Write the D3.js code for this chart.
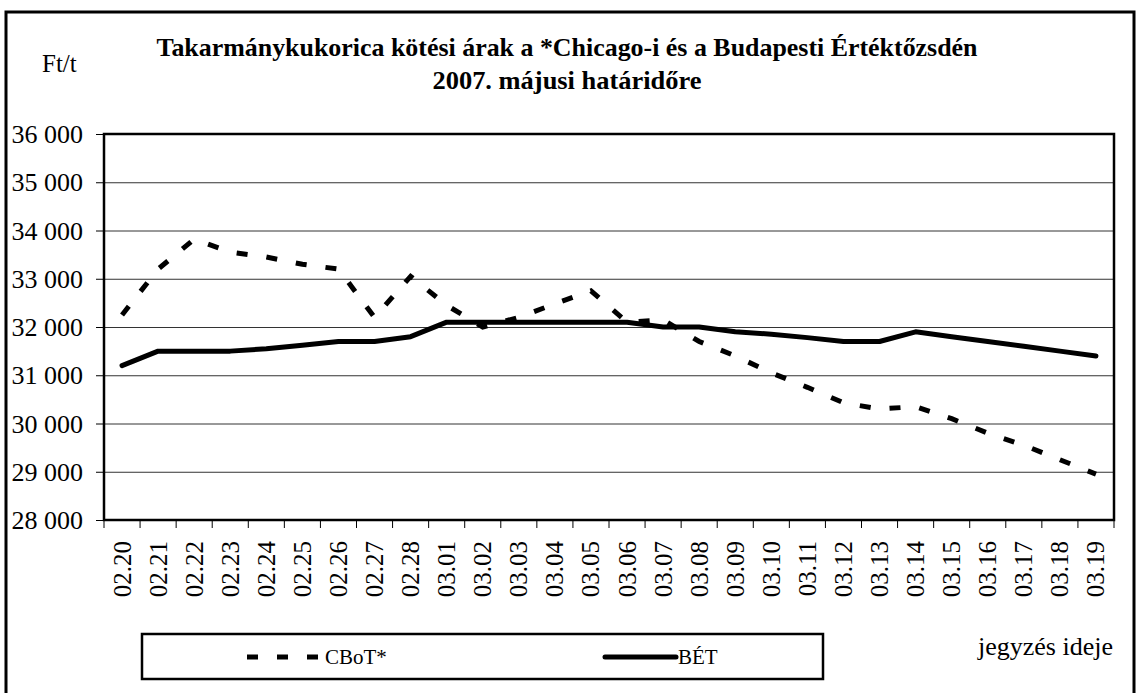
<html>
<head>
<meta charset="utf-8">
<script src="https://d3js.org/d3.v7.min.js"></script>
<style>
  body { margin: 0; background: #fff; }
  text { font-family: "Liberation Serif", "Times New Roman", serif; fill: #000; }
</style>
</head>
<body>
<script>
// categories (quote dates) and the two price series, Ft/t
var dates = ["02.20","02.21","02.22","02.23","02.24","02.25","02.26","02.27","02.28",
             "03.01","03.02","03.03","03.04","03.05","03.06","03.07","03.08","03.09",
             "03.10","03.11","03.12","03.13","03.14","03.15","03.16","03.17","03.18","03.19"];
var cbot = [32250,33200,33820,33550,33450,33300,33200,32200,33050,
            32450,32000,32200,32480,32750,32100,32150,31700,31400,
            31050,30750,30430,30300,30350,30100,29800,29550,29250,28950];
var bet  = [31200,31500,31500,31500,31550,31620,31700,31700,31800,
            32100,32100,32100,32100,32100,32100,32000,32000,31900,
            31850,31780,31700,31700,31900,31800,31700,31600,31500,31400];
var yTicks = [28000,29000,30000,31000,32000,33000,34000,35000,36000];
var titleLines = ["Takarmánykukorica kötési árak a *Chicago-i és a Budapesti Értéktőzsdén",
                  "2007. májusi határidőre"];
var seriesNames = ["CBoT*", "BÉT"];

var W = 1137, H = 693;
// plot area edges
var pLeft = 104, pRight = 1114, pTop = 134, pBottom = 520;

var svg = d3.select("body").append("svg")
  .attr("width", W).attr("height", H);

// outer frame
svg.append("rect")
  .attr("x", 6).attr("y", 12).attr("width", 1128).attr("height", 700)
  .attr("fill", "none").attr("stroke", "#000").attr("stroke-width", 3);

var x = d3.scaleBand().domain(dates).range([pLeft, pRight]);
var y = d3.scaleLinear().domain([28000, 36000]).range([pBottom, pTop]);

var loc = d3.formatLocale({decimal: ",", thousands: " ", grouping: [3], currency: ["", ""]});
var fmt = loc.format(",");

// gridlines
svg.append("g")
  .attr("transform", "translate(" + pLeft + ",0)")
  .call(d3.axisLeft(y).tickValues(yTicks).tickSize(-(pRight - pLeft)).tickFormat(""))
  .call(function(g) {
    g.select(".domain").remove();
    g.selectAll("line").attr("stroke", "#333").attr("stroke-width", 1);
  });

// y axis
svg.append("g")
  .attr("transform", "translate(" + pLeft + ",0)")
  .call(d3.axisLeft(y).tickValues(yTicks).tickSize(8).tickPadding(13).tickFormat(fmt))
  .call(function(g) {
    g.select(".domain").remove();
    g.selectAll("line").attr("stroke", "#000");
    g.selectAll("text")
      .style("font-size", "26px")
      .attr("dy", "0.33em");
  });

// plot border
svg.append("rect")
  .attr("x", pLeft).attr("y", pTop)
  .attr("width", pRight - pLeft).attr("height", pBottom - pTop)
  .attr("fill", "none").attr("stroke", "#000").attr("stroke-width", 2.5);

// x ticks at category boundaries
var bounds = d3.range(dates.length + 1).map(function(i) { return pLeft + i * x.step(); });
svg.append("g").selectAll("line").data(bounds).enter().append("line")
  .attr("x1", function(d) { return d; }).attr("x2", function(d) { return d; })
  .attr("y1", pBottom).attr("y2", pBottom + 8)
  .attr("stroke", "#000").attr("stroke-width", 1);

// x labels, rotated
svg.append("g").selectAll("text").data(dates).enter().append("text")
  .attr("transform", function(d) {
    return "translate(" + (x(d) + x.bandwidth() / 2 + 8.5) + "," + (pBottom + 21) + ") rotate(-90)";
  })
  .attr("text-anchor", "end")
  .style("font-size", "25px")
  .text(function(d) { return d; });

// lines
var line = function(vals) {
  return d3.line()
    .x(function(d, i) { return x(dates[i]) + x.bandwidth() / 2; })
    .y(function(d) { return y(d); })(vals);
};

svg.append("path")
  .attr("d", line(bet))
  .attr("fill", "none").attr("stroke", "#000").attr("stroke-width", 5)
  .attr("stroke-linejoin", "round").attr("stroke-linecap", "round");

svg.append("path")
  .attr("d", line(cbot))
  .attr("fill", "none").attr("stroke", "#000").attr("stroke-width", 5)
  .attr("stroke-dasharray", "11,19");

// title (widths matched to the original)
var titleW = [821, 269];
svg.append("g").selectAll("text").data(titleLines).enter().append("text")
  .attr("x", 567).attr("y", function(d, i) { return 56 + i * 33; })
  .attr("text-anchor", "middle")
  .attr("textLength", function(d, i) { return titleW[i]; })
  .attr("lengthAdjust", "spacingAndGlyphs")
  .style("font-size", "26px").style("font-weight", "bold")
  .text(function(d) { return d; });

svg.append("text").attr("x", 42).attr("y", 72)
  .style("font-size", "25px").text("Ft/t");

svg.append("text").attr("x", 978).attr("y", 655)
  .style("font-size", "26px").text("jegyzés ideje");

// legend
var lg = svg.append("g");
lg.append("rect")
  .attr("x", 142).attr("y", 634).attr("width", 681).attr("height", 45)
  .attr("fill", "#fff").attr("stroke", "#000").attr("stroke-width", 2.5);
lg.append("line")
  .attr("x1", 247).attr("x2", 320).attr("y1", 657).attr("y2", 657)
  .attr("stroke", "#000").attr("stroke-width", 5).attr("stroke-dasharray", "11,19");
lg.append("text").attr("x", 325).attr("y", 664)
  .style("font-size", "21px").text(seriesNames[0]);
lg.append("line")
  .attr("x1", 605).attr("x2", 676).attr("y1", 657).attr("y2", 657)
  .attr("stroke", "#000").attr("stroke-width", 5).attr("stroke-linecap", "round");
lg.append("text").attr("x", 678).attr("y", 664)
  .style("font-size", "21px").text(seriesNames[1]);
</script>
</body>
</html>
